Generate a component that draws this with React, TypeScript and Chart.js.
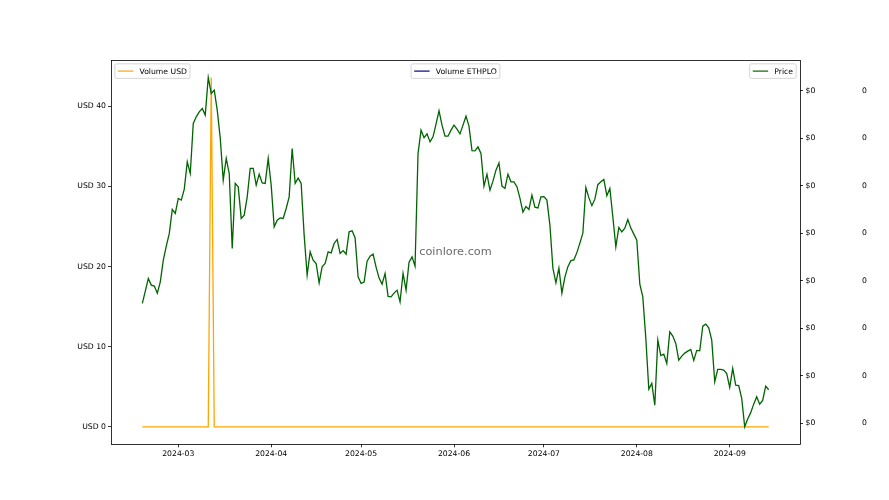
import React, { useEffect, useRef } from 'react';
import { Chart, registerables } from 'chart.js';

Chart.register(...registerables);

// ---------- data ----------
const START_DATE = '2024-02-18';
const MONTH_TICKS = ['2024-03', '2024-04', '2024-05', '2024-06', '2024-07', '2024-08', '2024-09'];
const USD_TICKS = [0, 10, 20, 30, 40];
const PRICE_TICKS = [1, 2, 3, 4, 5, 6, 7, 8];

// Price (arbitrary small units; every label renders as "$0")
const price = [
  3.526, 3.785, 4.053, 3.912, 3.891, 3.743, 3.981, 4.438, 4.733, 5.0,
  5.507, 5.421, 5.737, 5.701, 5.933, 6.507, 6.263, 7.316, 7.455, 7.56,
  7.632, 7.491, 8.284, 7.947, 8.017, 7.596, 7.006, 6.122, 6.579, 6.263,
  4.684, 6.053, 5.981, 5.316, 5.385, 5.771, 6.368, 6.368, 6.017, 6.248,
  6.065, 6.053, 6.579, 6.017, 5.139, 5.28, 5.328, 5.316, 5.526, 5.771,
  6.789, 6.053, 6.164, 6.053, 4.964, 4.122, 4.613, 4.438, 4.368, 3.96,
  4.297, 4.368, 4.613, 4.592, 4.789, 4.874, 4.579, 4.638, 4.564, 5.034,
  5.055, 4.912, 4.086, 3.947, 3.975, 4.417, 4.522, 4.564, 4.291, 4.059,
  3.933, 4.158, 3.674, 3.665, 3.743, 3.806, 3.56, 4.158, 3.806, 4.396,
  4.507, 4.312, 6.684, 7.175, 7.017, 7.097, 6.928, 7.034, 7.301, 7.581,
  7.28, 7.048, 7.048, 7.175, 7.28, 7.196, 7.097, 7.28, 7.469, 7.259,
  6.743, 6.739, 6.823, 6.684, 5.996, 6.248, 5.912, 6.101, 6.333, 6.484,
  5.996, 5.947, 6.248, 6.086, 6.086, 5.985, 5.743, 5.448, 5.568, 5.505,
  5.806, 5.554, 5.537, 5.771, 5.775, 5.701, 5.175, 4.269, 3.96, 4.269,
  3.743, 4.08, 4.301, 4.427, 4.444, 4.596, 4.796, 5.006, 5.968, 5.754,
  5.585, 5.722, 6.027, 6.086, 6.137, 5.796, 5.947, 5.349, 4.718, 5.126,
  5.034, 5.112, 5.295, 5.112, 4.985, 4.859, 3.933, 3.665, 2.796, 1.722,
  1.842, 1.385, 2.754, 2.427, 2.459, 2.263, 2.928, 2.838, 2.684, 2.333,
  2.417, 2.48, 2.522, 2.558, 2.326, 2.537, 2.528, 3.048, 3.091, 3.011,
  2.754, 1.876, 2.137, 2.137, 2.122, 2.048, 1.758, 2.158, 1.806, 1.796,
  1.526, 0.928, 1.091, 1.227, 1.406, 1.56, 1.406, 1.484, 1.785, 1.709,
];

// Volume USD
const volumeUsd = [
  0, 0, 0, 0, 0, 0, 0, 0, 0, 0,
  0, 0, 0, 0, 0, 0, 0, 0, 0, 0,
  0, 0, 0, 43.6, 0, 0, 0, 0, 0, 0,
  0, 0, 0, 0, 0, 0, 0, 0, 0, 0,
  0, 0, 0, 0, 0, 0, 0, 0, 0, 0,
  0, 0, 0, 0, 0, 0, 0, 0, 0, 0,
  0, 0, 0, 0, 0, 0, 0, 0, 0, 0,
  0, 0, 0, 0, 0, 0, 0, 0, 0, 0,
  0, 0, 0, 0, 0, 0, 0, 0, 0, 0,
  0, 0, 0, 0, 0, 0, 0, 0, 0, 0,
  0, 0, 0, 0, 0, 0, 0, 0, 0, 0,
  0, 0, 0, 0, 0, 0, 0, 0, 0, 0,
  0, 0, 0, 0, 0, 0, 0, 0, 0, 0,
  0, 0, 0, 0, 0, 0, 0, 0, 0, 0,
  0, 0, 0, 0, 0, 0, 0, 0, 0, 0,
  0, 0, 0, 0, 0, 0, 0, 0, 0, 0,
  0, 0, 0, 0, 0, 0, 0, 0, 0, 0,
  0, 0, 0, 0, 0, 0, 0, 0, 0, 0,
  0, 0, 0, 0, 0, 0, 0, 0, 0, 0,
  0, 0, 0, 0, 0, 0, 0, 0, 0, 0,
  0, 0, 0, 0, 0, 0, 0, 0, 0, 0,
];

// Volume ETHPLO (no visible data)
const volumeEthplo: number[] = [];

// ---------- helpers ----------
const FONT_FAMILY = '"DejaVu Sans", "Liberation Sans", sans-serif';
const FONT_SIZE = 7.7;
const ORIGIN = Date.UTC(2024, 2, 1);
const dayOf = (s: string) => {
  const [y, m, d] = s.split('-').map(Number);
  return Math.round((Date.UTC(y, m - 1, d || 1) - ORIGIN) / 86400000);
};
const padRange = (vals: number[]) => {
  const mn = Math.min(...vals);
  const mx = Math.max(...vals);
  const r = mx - mn;
  return { min: mn - 0.05 * r, max: mx + 0.05 * r };
};

const LEGENDS = [
  { label: 'Volume USD', color: '#FFA500', align: 'left' },
  { label: 'Volume ETHPLO', color: '#00008B', align: 'center' },
  { label: 'Price', color: '#006400', align: 'right' },
];

const decorPlugin = {
  id: 'decor',
  afterDraw(chart: any) {
    const { ctx, chartArea: a } = chart;
    ctx.save();
    // frame
    ctx.strokeStyle = '#000';
    ctx.lineWidth = 0.8;
    ctx.strokeRect(Math.round(a.left) + 0.5, Math.round(a.top) + 0.5, Math.round(a.right - a.left), Math.round(a.bottom - a.top));
    // watermark
    ctx.font = `11.3px ${FONT_FAMILY}`;
    ctx.fillStyle = 'rgba(80,80,80,0.85)';
    ctx.textAlign = 'center';
    ctx.textBaseline = 'middle';
    ctx.fillText('coinlore.com', (a.left + a.right) / 2, (a.top + a.bottom) / 2);
    // legends
    ctx.font = `${FONT_SIZE}px ${FONT_FAMILY}`;
    const pad = 0.4 * FONT_SIZE;
    const hl = 2 * FONT_SIZE;
    const htp = 0.8 * FONT_SIZE;
    const bap = 0.5 * FONT_SIZE;
    const h = 14.5;
    const top = a.top + bap;
    LEGENDS.forEach((lg) => {
      const tw = ctx.measureText(lg.label).width;
      const w = pad + hl + htp + tw + pad;
      let x = a.left + bap;
      if (lg.align === 'center') x = (a.left + a.right) / 2 - w / 2;
      if (lg.align === 'right') x = a.right - bap - w;
      ctx.beginPath();
      if ((ctx as any).roundRect) (ctx as any).roundRect(x, top, w, h, 1.5);
      else ctx.rect(x, top, w, h);
      ctx.fillStyle = 'rgba(255,255,255,0.8)';
      ctx.fill();
      ctx.strokeStyle = '#cccccc';
      ctx.lineWidth = 0.8;
      ctx.stroke();
      const cy = top + h / 2;
      ctx.beginPath();
      ctx.moveTo(x + pad, cy);
      ctx.lineTo(x + pad + hl, cy);
      ctx.strokeStyle = lg.color;
      ctx.lineWidth = 1.2;
      ctx.stroke();
      ctx.fillStyle = '#000';
      ctx.textAlign = 'left';
      ctx.textBaseline = 'middle';
      ctx.fillText(lg.label, x + pad + hl + htp, cy + 0.5);
    });
    ctx.restore();
  },
};

export default function App() {
  const ref = useRef<HTMLCanvasElement>(null);

  useEffect(() => {
    if (!ref.current) return;
    const start = dayOf(START_DATE);
    const days = price.map((_, i) => start + i);
    const xr = padRange(days);
    const pr = padRange(price);
    const vr = padRange(volumeUsd);
    const tickFont = { family: FONT_FAMILY, size: FONT_SIZE };
    const tickGrid = {
      display: true,
      drawOnChartArea: false,
      drawTicks: true,
      tickLength: 3,
      tickColor: '#000',
      tickWidth: 0.8,
    };

    const chart = new Chart(ref.current, {
      type: 'line',
      data: {
        datasets: [
          {
            label: 'Price',
            data: days.map((d, i) => ({ x: d, y: price[i] })),
            yAxisID: 'yPrice',
            borderColor: '#006400',
            borderWidth: 1.3,
            pointRadius: 0,
            tension: 0,
            order: 0,
          },
          {
            label: 'Volume USD',
            data: days.map((d, i) => ({ x: d, y: volumeUsd[i] })),
            yAxisID: 'yVol',
            borderColor: '#FFA500',
            borderWidth: 1.3,
            pointRadius: 0,
            tension: 0,
            order: 1,
          },
          {
            label: 'Volume ETHPLO',
            data: volumeEthplo.map((v, i) => ({ x: days[i], y: v })),
            yAxisID: 'yEth',
            borderColor: '#00008B',
            borderWidth: 1.3,
            pointRadius: 0,
            order: 2,
          },
        ],
      },
      options: {
        animation: false,
        responsive: false,
        devicePixelRatio: 1,
        layout: { padding: { top: 60, left: 0, right: 0, bottom: 0 } },
        plugins: { legend: { display: false }, tooltip: { enabled: false } },
        scales: {
          x: {
            type: 'linear',
            position: 'bottom',
            min: xr.min,
            max: xr.max,
            grid: tickGrid,
            border: { display: false },
            afterBuildTicks: (s: any) => {
              s.ticks = MONTH_TICKS.map((m) => ({ value: dayOf(m) }));
            },
            afterFit: (s: any) => {
              s.height = 55.7;
            },
            ticks: {
              font: tickFont,
              color: '#000',
              padding: 2,
              maxRotation: 0,
              autoSkip: false,
              callback: (_v: any, i: number) => MONTH_TICKS[i],
            },
          },
          yVol: {
            type: 'linear',
            position: 'left',
            min: vr.min,
            max: vr.max,
            grid: tickGrid,
            border: { display: false },
            afterBuildTicks: (s: any) => {
              s.ticks = USD_TICKS.map((v) => ({ value: v }));
            },
            afterFit: (s: any) => {
              s.width = 111;
            },
            ticks: {
              font: tickFont,
              color: '#000',
              padding: 2,
              autoSkip: false,
              callback: (v: any) => 'USD ' + v,
            },
          },
          yPrice: {
            type: 'linear',
            position: 'right',
            min: pr.min,
            max: pr.max,
            grid: tickGrid,
            border: { display: false },
            afterBuildTicks: (s: any) => {
              s.ticks = PRICE_TICKS.map((v) => ({ value: v }));
            },
            afterFit: (s: any) => {
              s.width = 46;
            },
            ticks: {
              font: tickFont,
              color: '#000',
              padding: 2.5,
              autoSkip: false,
              callback: () => '$0',
            },
          },
          yEth: {
            type: 'linear',
            position: 'right',
            min: pr.min,
            max: pr.max,
            grid: { display: false, drawTicks: false },
            border: { display: false },
            afterBuildTicks: (s: any) => {
              s.ticks = PRICE_TICKS.map((v) => ({ value: v }));
            },
            afterFit: (s: any) => {
              s.width = 43;
            },
            ticks: {
              font: tickFont,
              color: '#000',
              padding: 16,
              autoSkip: false,
              callback: () => '0',
            },
          },
        },
      },
      plugins: [decorPlugin],
    } as any);

    return () => chart.destroy();
  }, []);

  return (
    <div style={{ position: 'absolute', left: 0, top: 0, width: 889, height: 500, background: '#fff' }}>
      <canvas ref={ref} width={889} height={500} style={{ display: 'block', width: 889, height: 500 }} />
    </div>
  );
}
